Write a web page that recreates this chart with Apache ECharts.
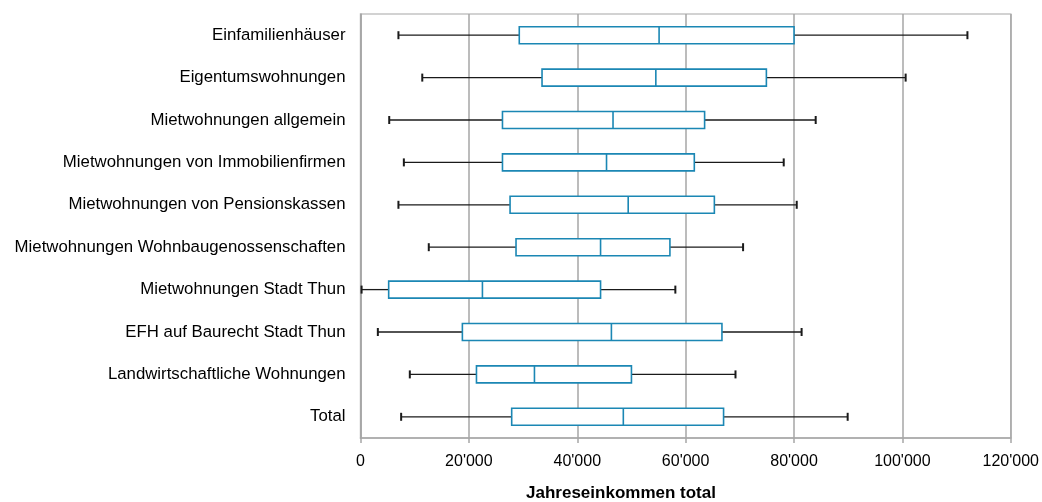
<!DOCTYPE html>
<html>
<head>
<meta charset="utf-8">
<title>Jahreseinkommen total</title>
<script src="https://cdn.jsdelivr.net/npm/echarts@6/dist/echarts.min.js"></script>
<style>
  html, body { margin: 0; padding: 0; background: #fff; }
  #chart { width: 1042px; height: 502px; }
</style>
</head>
<body>
<div id="chart"></div>
<script>
// Wohnkategorien, top to bottom
var categories = [
  'Einfamilienhäuser',
  'Eigentumswohnungen',
  'Mietwohnungen allgemein',
  'Mietwohnungen von Immobilienfirmen',
  'Mietwohnungen von Pensionskassen',
  'Mietwohnungen Wohnbaugenossenschaften',
  'Mietwohnungen Stadt Thun',
  'EFH auf Baurecht Stadt Thun',
  'Landwirtschaftliche Wohnungen',
  'Total'
];

// Five-number summary per category (CHF)
var minimum = [7000, 11400, 5300, 8000, 7000, 12600, 200, 3200, 9100, 7500];
var quartil1 = [29300, 33500, 26200, 26200, 27600, 28700, 5200, 18800, 21400, 27900];
var median   = [55100, 54500, 46600, 45400, 49400, 44300, 22500, 46300, 32100, 48500];
var quartil3 = [80000, 74900, 63500, 61600, 65300, 57100, 44300, 66700, 50000, 67000];
var maximum  = [112000, 100600, 84000, 78100, 80500, 70600, 58100, 81400, 69200, 89900];

var xTicks = [0, 20000, 40000, 60000, 80000, 100000, 120000];

var rows = categories.map(function (c, i) {
  return [i, minimum[i], quartil1[i], median[i], quartil3[i], maximum[i]];
});

function fmt(v) {
  return String(v).replace(/\B(?=(\d{3})+(?!\d))/g, "'");
}

var FONT = 'Liberation Sans, Arial, sans-serif';
var boxColor = '#1b87b4';
var whiskerColor = '#1a1a1a';

function renderBox(params, api) {
  var idx = api.value(0);
  var pMin = api.coord([api.value(1), idx]);
  var pQ1 = api.coord([api.value(2), idx]);
  var pMed = api.coord([api.value(3), idx]);
  var pQ3 = api.coord([api.value(4), idx]);
  var pMax = api.coord([api.value(5), idx]);
  var y = pMed[1];
  var h = 17;
  var cap = 8;
  var wStyle = { stroke: whiskerColor, lineWidth: 1.3 };
  var bStyle = { stroke: boxColor, lineWidth: 1.6, fill: '#fff' };
  return {
    type: 'group',
    children: [
      { type: 'line', shape: { x1: pMin[0], y1: y, x2: pQ1[0], y2: y }, style: wStyle },
      { type: 'line', shape: { x1: pQ3[0], y1: y, x2: pMax[0], y2: y }, style: wStyle },
      { type: 'line', shape: { x1: pMin[0], y1: y - cap / 2, x2: pMin[0], y2: y + cap / 2 }, style: { stroke: whiskerColor, lineWidth: 2 } },
      { type: 'line', shape: { x1: pMax[0], y1: y - cap / 2, x2: pMax[0], y2: y + cap / 2 }, style: { stroke: whiskerColor, lineWidth: 2 } },
      { type: 'rect', shape: { x: pQ1[0], y: y - h / 2, width: pQ3[0] - pQ1[0], height: h }, style: bStyle },
      { type: 'line', shape: { x1: pMed[0], y1: y - h / 2, x2: pMed[0], y2: y + h / 2 }, style: { stroke: boxColor, lineWidth: 1.6 } }
    ]
  };
}

var chart = echarts.init(document.getElementById('chart'), null, { renderer: 'canvas' });
chart.setOption({
  animation: false,
  backgroundColor: '#ffffff',
  textStyle: { fontFamily: FONT },
  grid: {
    left: 360.5, right: 31, top: 14, bottom: 64,
    show: true, borderColor: '#c4c4c4', borderWidth: 1.5, backgroundColor: 'transparent'
  },
  xAxis: {
    type: 'value',
    min: xTicks[0],
    max: xTicks[xTicks.length - 1],
    interval: xTicks[1] - xTicks[0],
    axisLine: { show: true, lineStyle: { color: '#a6a6a6', width: 1.5 } },
    axisTick: { show: true, length: 5, lineStyle: { color: '#a6a6a6', width: 1.5 } },
    splitLine: { show: true, lineStyle: { color: '#a6a6a6', width: 1.5 } },
    axisLabel: {
      margin: 16,
      color: '#000',
      fontSize: 16,
      fontFamily: FONT,
      formatter: function (v) { return fmt(v); }
    }
  },
  yAxis: {
    type: 'category',
    data: categories,
    inverse: true,
    axisLine: { show: true, lineStyle: { color: '#a6a6a6', width: 1.5 } },
    axisTick: { show: false },
    splitLine: { show: false },
    axisLabel: {
      margin: 15,
      color: '#000',
      fontSize: 16.8,
      fontFamily: FONT
    }
  },
  graphic: [{
    type: 'text',
    x: 621, y: 493,
    style: {
      text: 'Jahreseinkommen total',
      fill: '#000',
      font: 'bold 17px "Liberation Sans", Arial, sans-serif',
      textAlign: 'center',
      textVerticalAlign: 'middle'
    }
  }],
  series: [{
    type: 'custom',
    renderItem: renderBox,
    encode: { x: [1, 2, 3, 4, 5], y: 0 },
    data: rows,
    z: 5
  }]
});
</script>
</body>
</html>
